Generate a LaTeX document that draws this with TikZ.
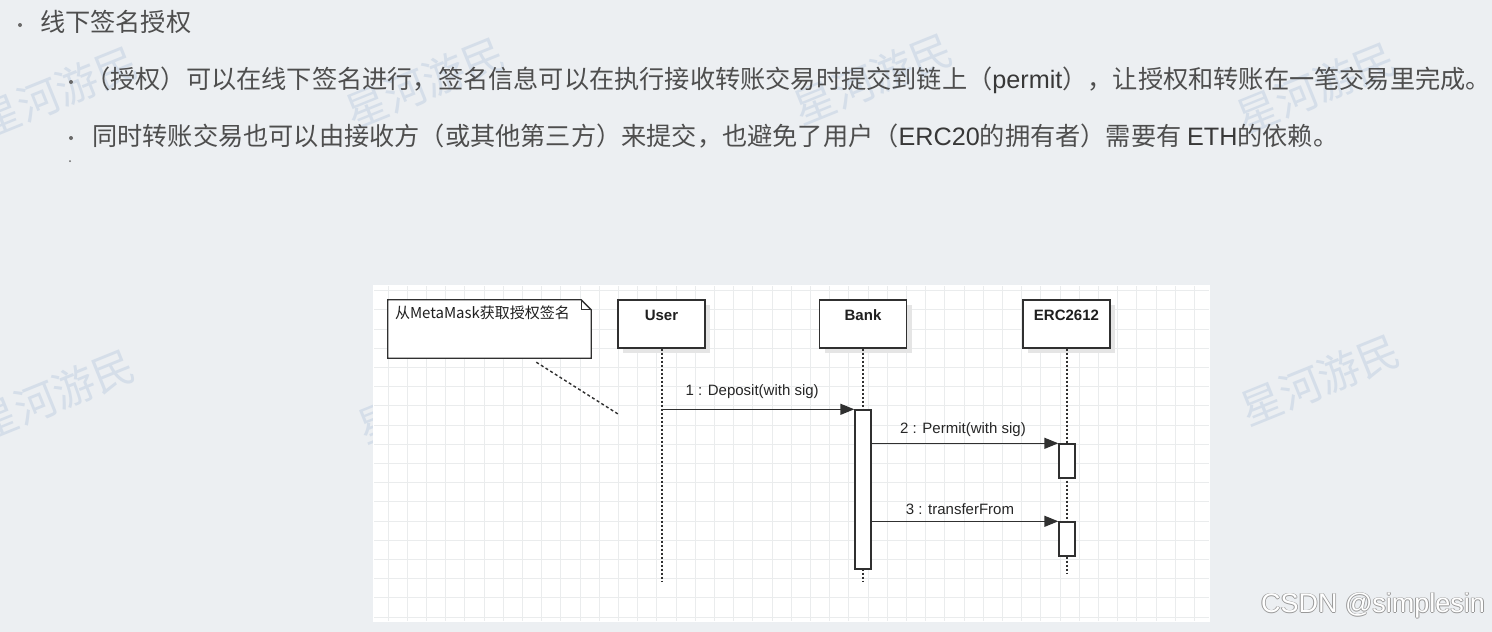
\documentclass[tikz,border=0pt]{standalone}
\usepackage{fontspec}
\setmainfont{Liberation Sans}
\setsansfont{Liberation Sans}
\newfontfamily\cjk{Noto Sans CJK SC}
\usetikzlibrary{positioning,calc,arrows.meta,shadows}

\definecolor{slidebg}{RGB}{236,239,242}
\definecolor{slidetext}{RGB}{78,78,78}
\definecolor{wmark}{RGB}{213,222,233}
\definecolor{gridgray}{RGB}{234,236,237}
\definecolor{umlline}{RGB}{48,48,48}
\newcommand\latinword[1]{{\rmfamily\color{black!78}#1}}

\tikzset{
  slideline/.style={anchor=west, inner sep=0pt, text=slidetext, font=\cjk\fontsize{25.2}{30}\selectfont},
  bulletdot/.style={fill=slidetext!85},
  watermark/.style={text=wmark, rotate=22, inner sep=0pt, font=\cjk\fontsize{42}{42}\selectfont},
  gridline/.style={draw=gridgray, line width=0.9pt},
  actorbox/.style={draw=umlline, line width=1.4pt, fill=white, inner sep=0pt,
    minimum width=87pt, minimum height=48pt,
    drop shadow={shadow xshift=5pt, shadow yshift=-5pt, fill=black!10, opacity=1}},
  actorname/.style={inner sep=0pt, text=black!88, text height=11pt, text depth=3pt,
    font=\bfseries\fontsize{15}{18}\selectfont},
  lifeline/.style={draw=umlline, line width=1.5pt, dash pattern=on 2pt off 2pt},
  actbar/.style={draw=umlline, line width=1.4pt, fill=white, inner sep=0pt, minimum width=16pt},
  msg/.style={draw=umlline, line width=1.4pt, -{Triangle[length=14pt,width=11pt]}},
  msglabel/.style={inner sep=0pt, text=black!85, font=\fontsize{15}{18}\selectfont},
  noteline/.style={draw=umlline, line width=1.3pt},
  notelink/.style={draw=umlline, line width=1.4pt, dash pattern=on 3pt off 2.5pt},
  csdnmark/.style={inner sep=0pt, font=\fontsize{27}{30}\selectfont},
}

\begin{document}
\begin{tikzpicture}[x=1pt, y=-1pt]
  \useasboundingbox (0,0) rectangle (1492,632);
  \fill[slidebg] (0,0) rectangle (1492,632);

  % watermarks
  \node[watermark] (wm1) at (58,92)   {星河游民};
  \node[watermark] (wm2) at (425,83)  {星河游民};
  \node[watermark] (wm3) at (873,79)  {星河游民};
  \node[watermark] (wm4) at (1316,88) {星河游民};
  \node[watermark] (wm5) at (55,395)  {星河游民};
  \node[watermark] (wm6) at (437,398) {星河游民};
  \node[watermark] (wm7) at (1320,380) {星河游民};

  % slide bullets
  \fill[bulletdot] (20,25) circle (2pt);
  \node[slideline] (head) at (40,22) {线下签名授权};
  \fill[bulletdot] (71,82) circle (2pt);
  \node[slideline] (pointa) at (85,80) {（授权）可以在线下签名进行，签名信息可以在执行接收转账交易时提交到链上（\latinword{permit}），让授权和转账在一笔交易里完成。};
  \fill[bulletdot] (71,138) circle (2pt);
  \node[slideline] (pointb) at (92,136) {同时转账交易也可以由接收方（或其他第三方）来提交，也避免了用户（\latinword{ERC20}的拥有者）需要有 \latinword{ETH}的依赖。};
  \fill[bulletdot] (70,161) circle (1pt);

  % diagram panel with grid
  \fill[white] (373,285) rectangle (1210,622);
  \foreach \gx in {388,407.2,...,1210} \draw[gridline] (\gx,286) -- (\gx,621);
  \foreach \gy in {290.6,309.8,...,622} \draw[gridline] (374,\gy) -- (1209,\gy);

  % note
  \node[minimum width=203pt, minimum height=58pt, inner sep=0pt] (note) at (489.5,329) {};
  \fill[white] (note.south west) rectangle (note.north east);
  \draw[noteline] (note.south west) -- (note.north west) -- ([xshift=-10pt]note.north east)
    -- ([yshift=-10pt]note.north east) -- (note.south east) -- cycle;
  \draw[noteline] ([xshift=-10pt]note.north east) -- ([xshift=-10pt,yshift=-10pt]note.north east)
    -- ([yshift=-10pt]note.north east);
  \node[anchor=north west, inner sep=0pt, text=black!88, font=\cjk\fontsize{15}{18}\selectfont]
    (notetext) at ([xshift=7pt,yshift=-6pt]note.north west) {从MetaMask获取授权签名};
  \coordinate (notetip) at (618,414);
  \draw[notelink] ($(note.south west)!0.73!(note.south east)$) ++(0,4) -- (notetip);

  % actors
  \node[actorbox] (user) at (661.5,324) {};
  \node[actorbox] (bank) at (863,324) {};
  \node[actorbox] (erc)  at (1066.5,324) {};
  \node[actorname, below=10pt of user.north] (usertxt) {User};
  \node[actorname, below=10pt of bank.north] (banktxt) {Bank};
  \node[actorname, below=10pt of erc.north]  (erctxt)  {ERC2612};

  % lifelines
  \coordinate (userend) at (662,582);
  \coordinate (bankend) at (863,582);
  \coordinate (ercend)  at (1067,573);
  \draw[lifeline] (user.south -| userend) -- (userend);
  \draw[lifeline] (bank.south -| bankend) -- (bankend);
  \draw[lifeline] (erc.south -| ercend) -- (ercend);

  % activations
  \node[actbar, minimum height=159pt] (bankact) at (863,489.5) {};
  \node[actbar, minimum height=34pt]  (ercacta) at (1067,461) {};
  \node[actbar, minimum height=34pt]  (ercactb) at (1067,539) {};

  % messages
  \draw[msg] (userend |- bankact.north) -- (bankact.north west)
    node[msglabel, midway, above=10pt, xshift=-6pt] (msga) {1 : Deposit(with sig)};
  \draw[msg] (bankact.east |- ercacta.north) -- (ercacta.north west)
    node[msglabel, midway, above=6pt, xshift=-2pt] (msgb) {2 : Permit(with sig)};
  \draw[msg] (bankact.east |- ercactb.north) -- (ercactb.north west)
    node[msglabel, midway, above=6pt, xshift=-5pt] (msgc) {3 : transferFrom};

  % site mark
  \foreach \ox/\oy [count=\k] in {-0.9/0,0.9/0,0/-0.9,0/0.9}
    \node[csdnmark, text=black!40] (csdnrim\k) at (1373+\ox,606+\oy) {CSDN @simplesin};
  \node[csdnmark, text=white] (csdn) at (1373,606) {CSDN @simplesin};
\end{tikzpicture}
\end{document}
